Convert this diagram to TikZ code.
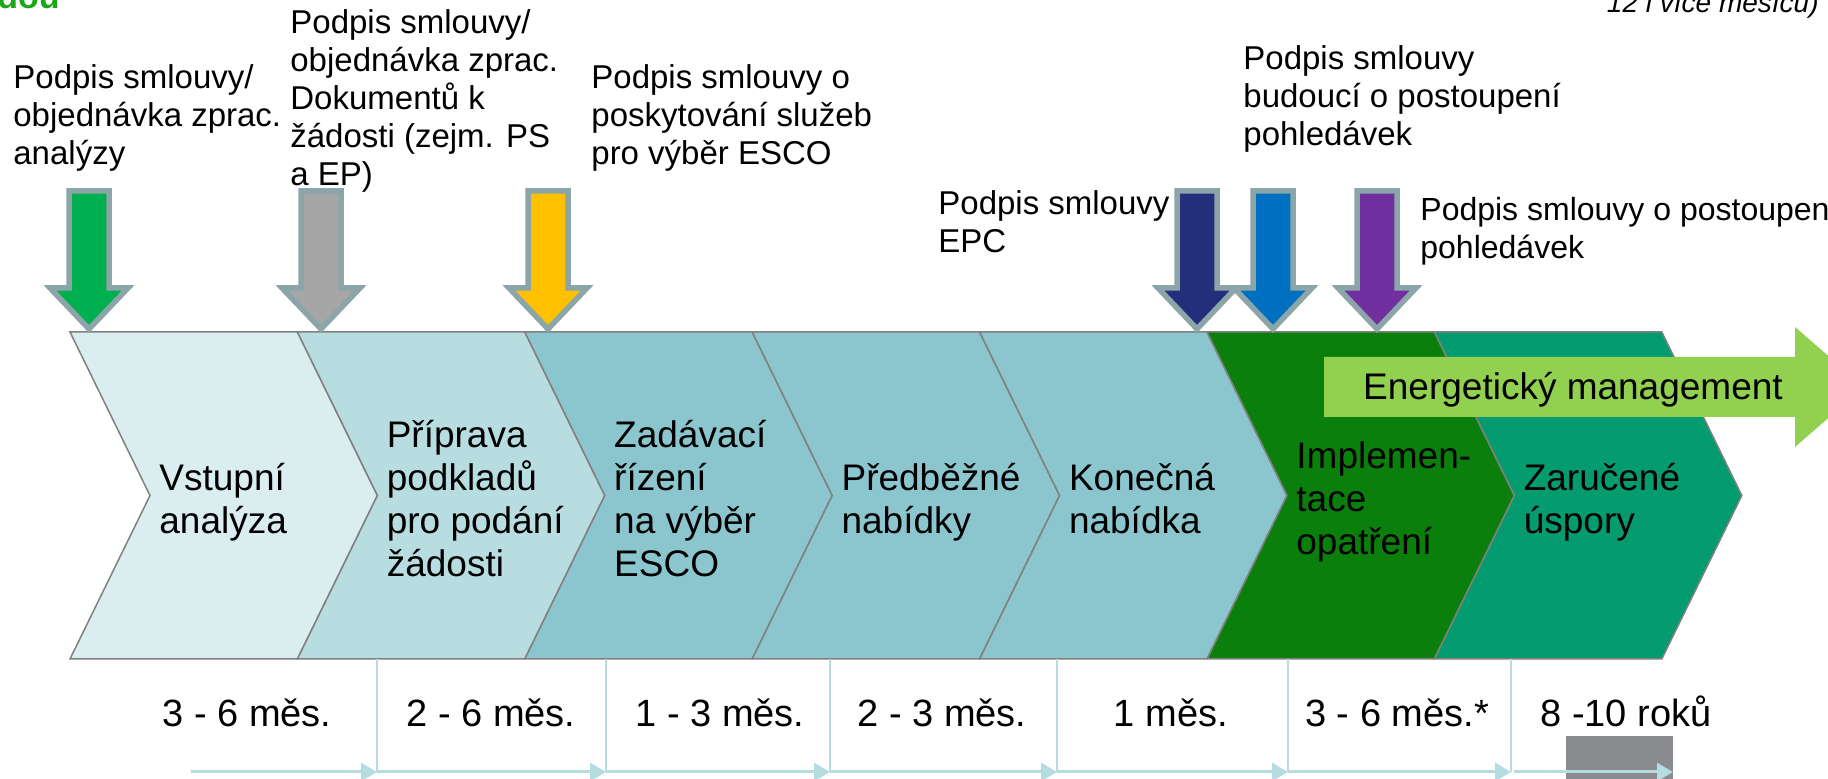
\documentclass[tikz,border=0pt]{standalone}
\usepackage{fontspec}
\setmainfont{Liberation Sans}
\usetikzlibrary{arrows.meta}
\definecolor{chA}{HTML}{DAEDEF}
\definecolor{chB}{HTML}{B8DDE1}
\definecolor{chC}{HTML}{8BC6CE}
\definecolor{chD}{HTML}{0B7F0B}
\definecolor{chE}{HTML}{049B6F}
\definecolor{chevline}{HTML}{808080}
\definecolor{energ}{HTML}{92D050}
\definecolor{arrline}{HTML}{8CA5A8}
\definecolor{tline}{HTML}{B5DCE1}
\definecolor{grayrect}{HTML}{8B8C90}
\definecolor{agreen}{HTML}{00B050}
\definecolor{agray}{HTML}{A6A6A6}
\definecolor{ayellow}{HTML}{FFC000}
\definecolor{anavy}{HTML}{22307C}
\definecolor{ablue}{HTML}{0070C0}
\definecolor{apurple}{HTML}{7030A0}
\definecolor{titlegreen}{HTML}{18A818}
\newcommand\chevshape[3]{\filldraw[chev, fill=#3] (#1,332) -- (#2,332) -- ({#2+80},495.5) -- (#2,659) -- (#1,659) -- ({#1+80},495.5) -- cycle;}
\newcommand\blockdown[2]{\filldraw[blockarrow, fill=#2] ({#1-20},191) -- ({#1+20},191) -- ({#1+20},288) -- ({#1+39},288) -- (#1,329) -- ({#1-39},288) -- ({#1-20},288) -- cycle;}
\begin{document}
\begin{tikzpicture}[x=0.5pt,y=-0.5pt,
  chev/.style={draw=chevline, line width=0.75pt, line join=miter},
  blockarrow/.style={draw=arrline, line width=2.75pt, line join=miter, miter limit=10},
  chevtext/.style={anchor=north west, inner sep=0pt, align=left, font=\fontsize{18.5}{21.5}\selectfont},
  sigtext/.style={anchor=north west, inner sep=0pt, align=left, font=\fontsize{16.5}{19}\selectfont},
  durtext/.style={anchor=base, inner sep=0pt, font=\fontsize{19}{22}\selectfont},
  tlarrow/.style={draw=tline, line width=1.5pt, -{Triangle[length=8pt,width=9pt]}},
  divider/.style={draw=tline, line width=1pt}]
\useasboundingbox (0,0) rectangle (1828,779);
\clip (0,0) rectangle (1828,779);
% chevrons
\chevshape{70}{297.4}{chA}
\chevshape{297.4}{524.8}{chB}
\chevshape{524.8}{752.2}{chC}
\chevshape{752.2}{979.6}{chC}
\chevshape{979.6}{1207}{chC}
\chevshape{1207}{1434.4}{chD}
\chevshape{1434.4}{1661.8}{chE}
% energy management arrow
\fill[energ] (1324,357) -- (1795,357) -- (1795,327) -- (1864,387) -- (1795,447) -- (1795,417) -- (1324,417) -- cycle;
\node[font=\fontsize{18.5}{21.5}\selectfont, anchor=base, inner sep=0pt] (em) at (1573,400) {Energetický management};
% block arrows
\blockdown{89}{agreen}
\blockdown{321}{agray}
\blockdown{548}{ayellow}
\blockdown{1197}{anavy}
\blockdown{1273}{ablue}
\blockdown{1377}{apurple}
% chevron texts
\node[chevtext] (s1) at (159,459.9) {\strut Vstupní\\analýza};
\node[chevtext] (s2) at (386.4,416.9) {\strut Příprava\\podkladů\\pro podání\\žádosti};
\node[chevtext] (s3) at (613.8,416.9) {\strut Zadávací\\řízení\\na výběr\\ESCO};
\node[chevtext] (s4) at (841.2,459.9) {\strut Předběžné\\nabídky};
\node[chevtext] (s5) at (1068.6,459.9) {\strut Konečná\\nabídka};
\node[chevtext] (s6) at (1296,437.9) {\strut Implemen-\\tace\\opatření};
\node[chevtext] (s7) at (1523.4,459.9) {\strut Zaručené\\úspory};
% signature labels
\node[sigtext] (l1) at (13,61.4) {\strut Podpis smlouvy/\\objednávka zprac.\\analýzy};
\node[sigtext] (l2) at (290,6.4) {\strut Podpis smlouvy/\\objednávka zprac.\\Dokumentů k\\žádosti (zejm. PS\\a EP)};
\node[sigtext] (l3) at (591,61.4) {\strut Podpis smlouvy o\\poskytování služeb\\pro výběr ESCO};
\node[sigtext] (l4) at (938,187.4) {\strut Podpis smlouvy\\EPC};
\node[sigtext] (l5) at (1243,42.4) {\strut Podpis smlouvy\\budoucí o postoupení\\pohledávek};
\node[sigtext, font=\fontsize{16}{19}\selectfont] (l6) at (1420,193.4) {\strut Podpis smlouvy o postoupení\\pohledávek};
% clipped texts at the top edge
\node[anchor=base east, inner sep=0pt, text=titlegreen, font=\bfseries\fontsize{17}{20}\selectfont] (ttl) at (60,9) {dou};
\node[anchor=base east, inner sep=0pt, font=\itshape\fontsize{14}{17}\selectfont] (note) at (1819,12.5) {12 i více měsíců)};
% timeline
\fill[grayrect] (1566,736) rectangle (1673,785);
\coordinate (t0) at (191,772);
\coordinate (t1) at (377,772);
\coordinate (t2) at (606,772);
\coordinate (t3) at (830,772);
\coordinate (t4) at (1057,772);
\coordinate (t5) at (1288,772);
\coordinate (t6) at (1511,772);
\coordinate (t6b) at (1514,772);
\coordinate (t7) at (1673,772);
\foreach \c/\x in {t1/377,t2/606,t3/830,t4/1057,t5/1288,t6/1511}
  \draw[divider] (\x,659) -- (\c);
\draw[tlarrow] (t0) -- (t1);
\draw[tlarrow] (t1) -- (t2);
\draw[tlarrow] (t2) -- (t3);
\draw[tlarrow] (t3) -- (t4);
\draw[tlarrow] (t4) -- (t5);
\draw[tlarrow] (t5) -- (t6);
\draw[tlarrow] (t6b) -- (t7);
\node[durtext] (d1) at (247,727) {3 - 6 měs.};
\node[durtext] (d2) at (491,727) {2 - 6 měs.};
\node[durtext] (d3) at (720,727) {1 - 3 měs.};
\node[durtext] (d4) at (942,727) {2 - 3 měs.};
\node[durtext] (d5) at (1171,727) {1 měs.};
\node[durtext] (d6) at (1397,727) {3 - 6 měs.*};
\node[durtext] (d7) at (1626,727) {8 -10 roků};
\end{tikzpicture}
\end{document}
